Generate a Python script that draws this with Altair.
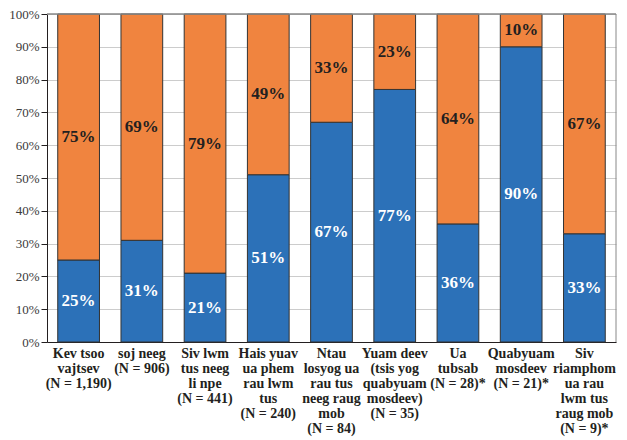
import altair as alt
import pandas as pd

categories = [
    "Kev tsoo|vajtsev|(N = 1,190)",
    "soj neeg|(N = 906)",
    "Siv lwm|tus neeg|li npe|(N = 441)",
    "Hais yuav|ua phem|rau lwm|tus|(N = 240)",
    "Ntau|losyog ua|rau tus|neeg raug|mob|(N = 84)",
    "Yuam deev|(tsis yog|quabyuam|mosdeev)|(N = 35)",
    "Ua|tubsab|(N = 28)*",
    "Quabyuam|mosdeev|(N = 21)*",
    "Siv|riamphom|ua rau|lwm tus|raug mob|(N = 9)*",
]
blue_vals = [25, 31, 21, 51, 67, 77, 36, 90, 33]
orange_vals = [75, 69, 79, 49, 33, 23, 64, 10, 67]
y_ticks = [0, 10, 20, 30, 40, 50, 60, 70, 80, 90, 100]

rows = []
for i, c in enumerate(categories):
    b = blue_vals[i]
    o = orange_vals[i]
    rows.append({"cat": c, "series": "blue", "value": b, "order": 0, "mid": b / 2, "label": f"{b}%"})
    rows.append({"cat": c, "series": "orange", "value": o, "order": 1, "mid": b + o / 2, "label": f"{o}%"})
df = pd.DataFrame(rows)

FONT = "Liberation Serif"
x_enc = alt.X(
    "cat:N", sort=categories, title=None,
    scale=alt.Scale(paddingInner=0.34, paddingOuter=0.17),
    axis=alt.Axis(labelExpr="split(datum.label, '|')", labelAngle=0, labelFont=FONT,
                  labelFontSize=14, labelFontWeight="bold", labelColor="#231f20",
                  labelLineHeight=15, ticks=False, domain=True, domainColor="#231f20",
                  labelPadding=4, labelLimit=200),
)

yscale = alt.Scale(domain=[0, 100])
yaxis = alt.Axis(values=y_ticks, labelExpr="datum.value + '%'", title=None,
                 labelFont=FONT, labelFontSize=13, labelColor="#3a3a3a",
                 grid=True, gridColor="#cccccc", domainColor="#231f20",
                 tickColor="#231f20", tickSize=6, labelPadding=2)

bars = alt.Chart(df).mark_bar(stroke="#333333", strokeWidth=1).encode(
    x=x_enc,
    y=alt.Y("value:Q", stack="zero", title=None, scale=yscale, axis=yaxis),
    color=alt.Color("series:N", scale=alt.Scale(domain=["blue", "orange"], range=["#2c71b8", "#f0843f"]), legend=None),
    order=alt.Order("order:Q"),
)

text = alt.Chart(df).mark_text(font=FONT, fontSize=17, fontWeight="bold").encode(
    x=alt.X("cat:N", sort=categories),
    y=alt.Y("mid:Q", scale=yscale, axis=yaxis, title=None),
    text="label:N",
    color=alt.Color("series:N", scale=alt.Scale(domain=["blue", "orange"], range=["#ffffff", "#231f20"]), legend=None),
)

top = alt.Chart(pd.DataFrame({"v": [100]})).mark_rule(color="#888888", strokeWidth=1.5).encode(
    y=alt.Y("v:Q", scale=yscale, axis=yaxis, title=None))
right = alt.Chart(pd.DataFrame({"v": [0]})).mark_rule(color="#888888").encode(
    x=alt.value(569), y=alt.value(0), y2=alt.value(328))

chart = alt.layer(bars, text, top, right).resolve_scale(color="independent").properties(
    width=569, height=328,
    autosize=alt.AutoSizeParams(type="none"),
    padding={"left": 39, "top": 6, "right": 2, "bottom": 100},
).configure_view(stroke=None)

chart.save("out.html", embed_options={"renderer": "svg", "actions": False})
